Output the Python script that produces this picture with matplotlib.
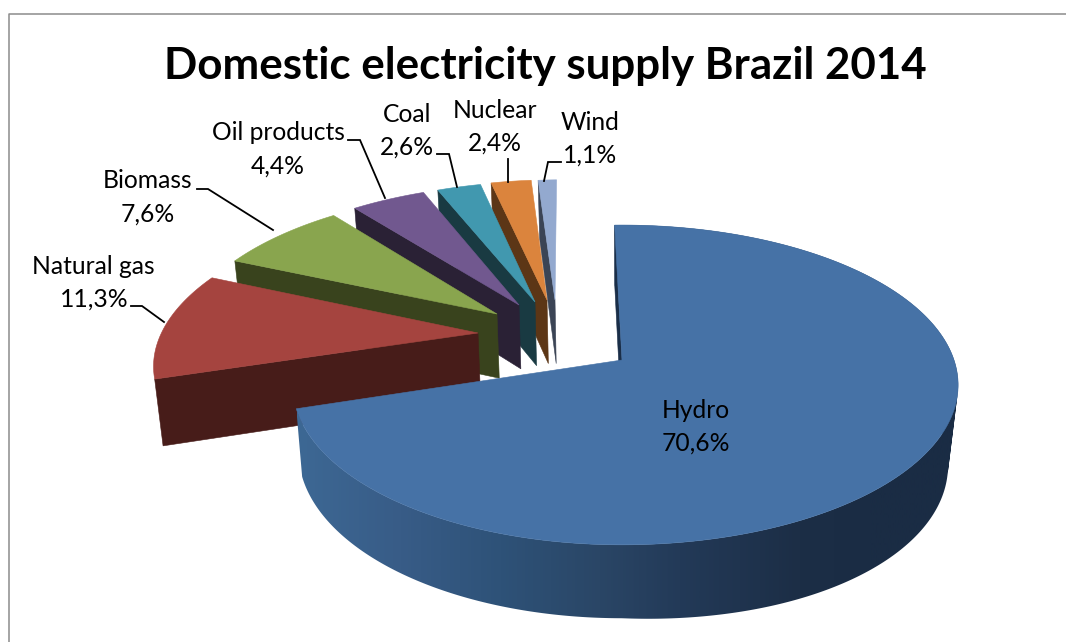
"""Domestic electricity supply Brazil 2014: exploded 3D pie drawn by hand in matplotlib."""

import matplotlib

matplotlib.use("Agg")   # headless backend
from matplotlib.colors import LinearSegmentedColormap
from matplotlib.path import Path
from matplotlib.patches import PathPatch
import matplotlib.pyplot as plt
import numpy as np

TITLE = "Domestic electricity supply Brazil 2014"
sources = ["Hydro", "Natural gas", "Biomass", "Oil products", "Coal", "Nuclear", "Wind"]
shares = [70.6, 11.3, 7.6, 4.4, 2.6, 2.4, 1.1]
share_labels = ["70,6%", "11,3%", "7,6%", "4,4%", "2,6%", "2,4%", "1,1%"]

top_colors = ["#4672A6", "#A5443F", "#89A54E", "#71588F", "#4198AF", "#DB843D", "#93A9CF"]
wall_colors = ["#1A2E48", "#471C19", "#39431D", "#2A2135", "#193A42", "#5C3616", "#3B4455"]

# pixel layout of the pie
CX, CY = 622, 360       # apex of the hydro slice
A, B, PERSP = 332, 156, 0.156
LEFT_SQUEEZE = 0.98     # the left half of the ellipse is a bit narrower
START_DEG = -1.5
apex_offsets = [(0, 0), (-144, -27), (-125, -46), (-103, -55), (-87, -58), (-75, -60), (-67, -60)]

# horizontal shading of the hydro rim
RIM_X = [297, 400, 500, 600, 680, 800, 870, 960]
RIM_COLORS = ["#3D6894", "#385C87", "#2E5278", "#2A4666", "#233A58", "#1C2E46", "#1A2C44", "#1A2C44"]

# label centres: name then value
name_xy = [(696, 410), (93, 266), (148, 181), (278, 133), (407, 114), (495, 111), (590, 122)]
value_xy = [(696, 443), (94, 299), (148, 214), (278, 166), (407, 147), (495, 143), (590, 155)]
leaders = [
    None,
    [(131, 306), (142, 306), (164, 322)],
    [(197, 189), (208, 189), (273, 230)],
    [(348, 140), (360, 140), (385, 198)],
    [(437, 154), (449, 154), (457, 187)],
    [(508, 159), (508, 182)],
    [(561, 162), (548, 162), (544, 181)],
]


def project(u, v):
    """Plane coordinates to pixel offsets from the apex."""
    w = 1 + PERSP * v
    return A * u / w, -B * v / w


def lower(sx, sy):
    """Top-face pixel offsets to the matching offsets on the lower face."""
    shrink = np.where(sx < 0, 0.982, 0.97)
    return sx * shrink, sy * 1.04 + 66 + 0.04 * np.maximum(sx, 0)


def signed_area(x, y):
    return 0.5 * np.sum(x * np.roll(y, -1) - np.roll(x, -1) * y)


def draw_hydro_rim(ax, top_x, top_y, low_x, low_y):
    # one compound clip path of same-wound quads, so the gradient has no seams
    verts, codes = [], []
    for k in range(len(top_x) - 1):
        xs = CX + np.array([top_x[k], top_x[k + 1], low_x[k + 1], low_x[k]])
        ys = CY + np.array([top_y[k], top_y[k + 1], low_y[k + 1], low_y[k]])
        if signed_area(xs, ys) < 0:
            xs, ys = xs[::-1], ys[::-1]
        verts += list(zip(xs, ys)) + [(xs[0], ys[0])]
        codes += [Path.MOVETO, Path.LINETO, Path.LINETO, Path.LINETO, Path.CLOSEPOLY]
    patch = PathPatch(Path(verts, codes), fc="none", ec="none", transform=ax.transData)
    ax.add_patch(patch)

    span = RIM_X[-1] - RIM_X[0]
    stops = [(x - RIM_X[0]) / span for x in RIM_X]
    cmap = LinearSegmentedColormap.from_list("rim", list(zip(stops, RIM_COLORS)))
    grad = np.linspace(0, 1, 512)[None, :]
    img = ax.imshow(grad, cmap=cmap, extent=(RIM_X[0], RIM_X[-1], 642, 0), aspect="auto",
                    interpolation="bilinear", zorder=30)
    img.set_clip_path(patch)


def draw_slice(ax, i, t0, t1):
    dx, dy = apex_offsets[i]
    v0 = -dy / (B + PERSP * dy)
    u0 = dx * (1 + PERSP * v0) / A
    th = np.radians(np.linspace(t0, t1, max(int((t1 - t0) * 2), 2) + 1))
    sin_th = np.sin(th)
    sin_th = np.where(sin_th < 0, sin_th * LEFT_SQUEEZE, sin_th)
    top_x, top_y = project(u0 + sin_th, v0 + np.cos(th))
    apex_x, apex_y = project(u0, v0)
    low_x, low_y = lower(top_x, top_y)
    low_ax, low_ay = lower(apex_x, apex_y)

    if i == 0:
        draw_hydro_rim(ax, top_x, top_y, low_x, low_y)

    # radial wall along the starting edge
    z = (6 - i) * 3 + 1 if i else 31
    ax.fill(CX + np.array([top_x[0], apex_x, low_ax, low_x[0]]),
            CY + np.array([top_y[0], apex_y, low_ay, low_y[0]]),
            color=wall_colors[i], lw=0.4, zorder=z)

    # top face
    z = (6 - i) * 3 + 2 if i else 32
    ax.fill(CX + np.r_[apex_x, top_x], CY + np.r_[apex_y, top_y],
            color=top_colors[i], lw=0.4, zorder=z)


def main():
    plt.rcParams["font.family"] = ["Lato", "DejaVu Sans"]
    fig = plt.figure(figsize=(10.66, 6.42), dpi=100)
    ax = fig.add_axes([0, 0, 1, 1])

    # chart frame, only top and left edges are in the crop
    ax.plot([9, 9, 1066], [642, 14, 14], color="#8C8C8C", lw=1.1, zorder=1)

    edges = START_DEG + np.r_[0, np.cumsum(shares)] * 3.6
    for i in range(len(shares)):
        draw_slice(ax, i, edges[i], edges[i + 1])

    for path in leaders:
        if path:
            xs, ys = zip(*path)
            ax.plot(xs, ys, color="black", lw=1.3, zorder=40, solid_joinstyle="miter")

    ax.text(545, 66, TITLE, ha="center", va="center", fontsize=31.6, fontweight="bold",
            color="black", zorder=50)
    for i, name in enumerate(sources):
        ax.text(*name_xy[i], name, ha="center", va="center", fontsize=17.7, zorder=50)
        ax.text(*value_xy[i], share_labels[i], ha="center", va="center", fontsize=17.7, zorder=50)

    ax.set_xlim(0, 1066)
    ax.set_ylim(642, 0)
    ax.axis("off")
    fig.savefig("out.png", dpi=100)


if __name__ == "__main__":
    main()
